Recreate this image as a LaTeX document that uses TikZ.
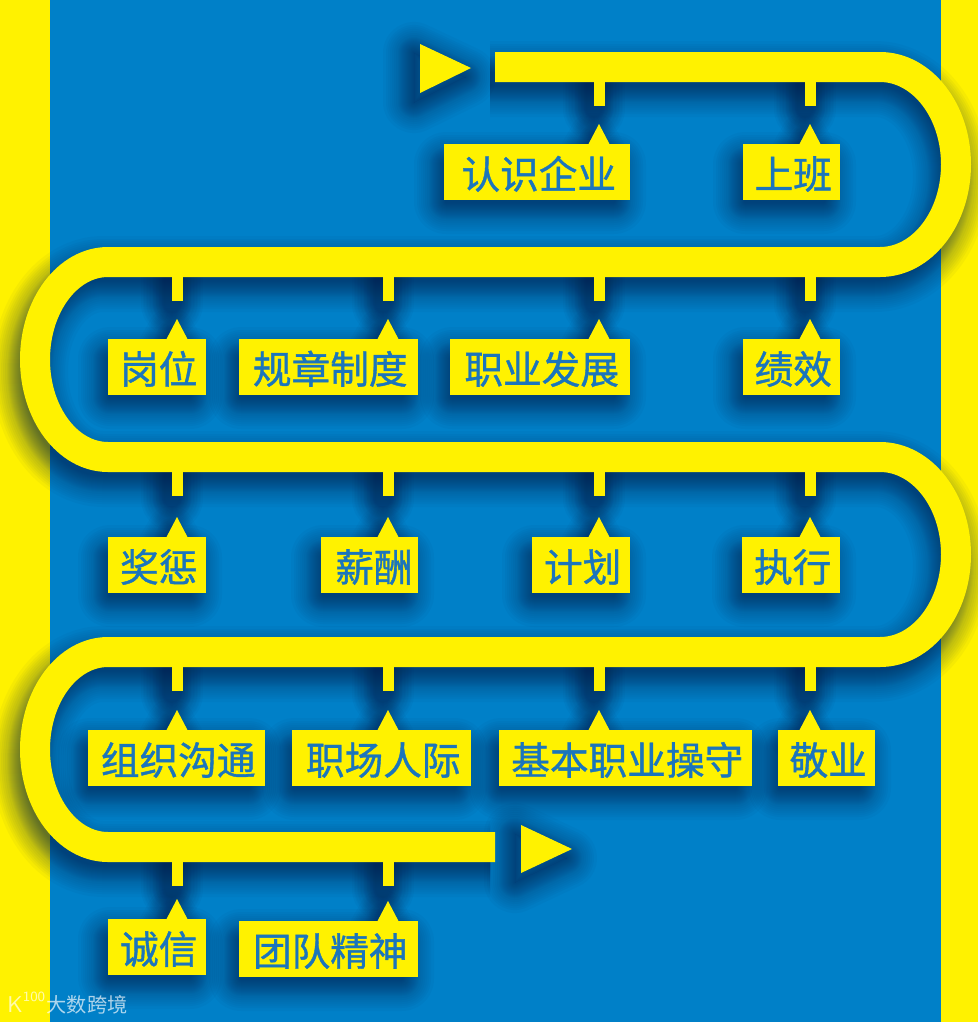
\documentclass[tikz,border=0pt]{standalone}
\usepackage{fontspec}
\newfontfamily\cjk{Noto Sans CJK SC}
\newfontfamily\cjkheavy[FakeBold=1]{Noto Sans CJK SC}
\definecolor{panelblue}{HTML}{0080C8}
\definecolor{roadyellow}{HTML}{FFF200}
\definecolor{tagink}{HTML}{1B75BC}
\definecolor{castnavy}{HTML}{00234F}
% name/left/right/pointer x/top/band y/label
\def\taglist{
	renshi/444/630/599/144/67/认识企业,
	shangban/743/840/810/144/67/上班,
	gangwei/108/206/177/339/262/岗位,
	guizhang/239/418/388/339/262/规章制度,
	fazhan/450/630/599/339/262/职业发展,
	jixiao/743/840/810/339/262/绩效,
	jiangcheng/108/206/177/537/457/奖惩,
	xinchou/321/418/388/537/457/\kern3pt 薪酬,
	jihua/532/630/599/537/457/计划,
	zhixing/742/840/810/537/457/执行,
	goutong/88/265/177/730/652/组织沟通,
	renji/292/471/388/730/652/职场人际,
	zhishou/499/752/599/730/652/基本职业操守,
	jingye/778/875/810/730/652/敬业,
	chengxin/108/206/177/919/847/诚信,
	tuandui/239/418/388/921/847/团队精神%
}
\def\snakepath{(495,67) -- (880,67)
	arc[start angle=-90,end angle=90,x radius=76,y radius=97.5] -- (108,262)
	arc[start angle=-90,end angle=-270,x radius=73,y radius=97.5] -- (880,457)
	arc[start angle=-90,end angle=90,x radius=76,y radius=97.5] -- (108,652)
	arc[start angle=-90,end angle=-270,x radius=73,y radius=97.5] -- (495,847)}
\begin{document}
\begin{tikzpicture}[
		x=0.02cm,y=-0.02cm,
		shadowcast/.style={castnavy,opacity=0.036,line join=round,line cap=round},
		roadline/.style={roadyellow,line width=0.6cm},
		stubline/.style={roadyellow,line width=0.22cm},
		tagbox/.style={fill=roadyellow,text=tagink,inner sep=0pt,
			text height=20pt,text depth=1pt,
			font=\cjkheavy\fontsize{22}{24}\selectfont},
		startmark/.style={fill=roadyellow},
		watermark/.style={text=white,text opacity=0.68,inner sep=0pt},
	]
	\clip (0,0) rectangle (978,1022);
	\fill[panelblue] (0,0) rectangle (978,1022);

	% ---------- side strips ----------
	\fill[roadyellow] (0,0) rectangle (50,1022);
	\fill[roadyellow] (941,0) rectangle (978,1022);

	% ---------- soft shadows ----------
	\foreach \g in {-8,-7,...,8,10,12,14,16,18,20,23} {
		\draw[shadowcast,line cap=butt,line width={(30+2*\g)*0.02cm},shift={(-5,12)}] \snakepath;
		\draw[shadowcast,line width={(2*\g+16)*0.02cm},shift={(-6,9)}]
			(420,44) -- (471,68) -- (420,93) -- cycle;
		\draw[shadowcast,line width={(2*\g+16)*0.02cm},shift={(-6,9)}]
			(521,825) -- (572,849) -- (521,873) -- cycle;
		\foreach \nm/\xa/\xb/\tip/\yt/\yb/\txt in \taglist {
			\draw[shadowcast,line width={(11+\g+8)*0.03cm},shift={(-5,6)}]
				(\tip,\yb+12) -- (\tip,\yb+36);
			\draw[shadowcast,line width={(\g+9)*0.03cm},shift={(-6,9)}]
				(\tip-9,\yt) -- (\tip,\yt-16) -- (\tip+9,\yt);
			\fill[shadowcast,rounded corners={(\g+9)*0.57pt},shift={(-7,11)}]
				(\xa-\g,\yt-\g) rectangle (\xb+\g,\yt+56+\g);
		}
	}

	% ---------- road ----------
	\fill[startmark] (420,44) -- (471,68) -- (420,93) -- cycle;
	\fill[startmark] (521,825) -- (572,849) -- (521,873) -- cycle;
	\draw[roadline] \snakepath;

	% ---------- labels ----------
	\foreach \nm/\xa/\xb/\tip/\yt/\yb/\txt in \taglist {
		\coordinate (\nm-root) at (\tip,\yb);
		\coordinate (\nm-end) at (\tip,\yb+39);
		\draw[stubline] (\nm-root) -- (\nm-end);
		\fill[roadyellow] (\tip-11,\yt+1) -- (\tip,\yt-20) -- (\tip+11,\yt+1) -- cycle;
		\node[tagbox,minimum width={(\xb-\xa)*0.02cm},minimum height=1.12cm]
			(\nm) at ({(\xa+\xb)/2},\yt+28) {\kern2pt\txt};
	}

	% ---------- corner mark ----------
	\node[watermark,font=\cjk\fontsize{11.5}{12}\selectfont] (markname) at (87,1005) {大数跨境};
	\node[watermark,font=\sffamily\fontsize{13}{13}\selectfont] (markk) at (15,1005) {K};
	\node[watermark,font=\sffamily\fontsize{8}{8}\selectfont] (markhundred) at (34,997) {100};
\end{tikzpicture}
\end{document}
